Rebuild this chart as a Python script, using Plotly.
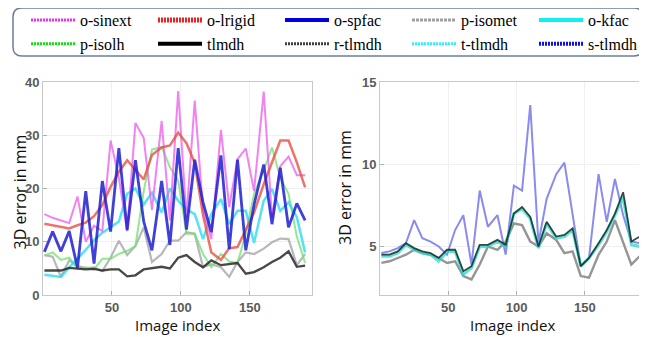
import plotly.graph_objects as go

# the page body adds an 8px margin; the figure is sized and laid out so that
# its content lands where the reference has it in the 647x337 window
OFF = 8
FW, FH = 647 - OFF, 337 - OFF

# ---------------- data ----------------
x_index = [1, 7, 13, 19, 25, 31, 37, 43, 49, 55, 61, 67, 73, 79, 86, 92,
           98, 104, 110, 116, 122, 129, 135, 141, 147, 153, 160, 166, 172, 178, 184, 190]

# left panel
o_sinext = [15.2, 14.5, 14.0, 13.5, 18.5, 10.0, 13.0, 12.0, 29.0, 22.0, 12.0, 32.3, 29.5, 16.0, 32.7, 14.0,
            38.3, 14.6, 36.5, 16.0, 10.5, 31.0, 16.5, 25.5, 27.5, 19.5, 38.2, 14.6, 24.2, 26.0, 22.5, 22.5]
o_lrigid = [13.4, 13.1, 12.8, 12.5, 13.1, 13.6, 14.8, 16.9, 20.3, 23.1, 25.3, 23.6, 21.7, 26.3, 27.7, 28.1,
            30.5, 28.5, 24.8, 15.0, 8.0, 6.6, 8.8, 9.0, 12.1, 15.5, 20.8, 24.8, 29.0, 29.0, 24.9, 20.2]
o_spfac = [8.1, 11.9, 8.2, 12.0, 5.1, 19.5, 5.9, 21.4, 11.9, 27.6, 12.2, 25.3, 13.8, 8.4, 21.4, 9.4,
           27.6, 12.3, 25.4, 17.4, 11.8, 26.2, 8.6, 25.4, 8.4, 17.0, 24.5, 13.3, 23.9, 12.7, 17.2, 14.0]
p_isomet = [7.5, 7.2, 3.4, 6.5, 5.5, 5.0, 5.2, 4.5, 7.0, 10.2, 7.5, 9.2, 12.7, 6.2, 7.7, 10.2,
            10.2, 11.8, 11.5, 5.2, 5.8, 5.2, 3.4, 6.2, 8.0, 7.7, 8.7, 9.9, 10.6, 10.5, 5.6, 7.7]
o_kfac = [3.8, 3.6, 3.4, 5.2, 6.8, 8.5, 10.3, 11.7, 12.7, 13.8, 19.0, 20.0, 17.0, 19.2, 15.5, 20.0,
          17.7, 16.1, 15.2, 10.5, 15.2, 18.0, 13.3, 15.8, 15.8, 9.8, 17.7, 19.9, 15.8, 17.4, 14.6, 8.0]
p_isolh = [7.4, 8.0, 6.6, 7.0, 5.0, 5.2, 4.8, 6.8, 6.8, 7.7, 8.3, 9.2, 19.5, 27.3, 27.8, 24.0,
           21.5, 11.5, 11.5, 7.7, 5.2, 7.7, 6.3, 6.0, 11.5, 19.0, 23.4, 27.7, 22.0, 19.0, 11.0, 6.0]
tlmdh_left = [4.6, 4.6, 4.6, 5.1, 5.0, 4.8, 4.9, 4.6, 4.8, 4.8, 3.5, 3.7, 4.8, 5.0, 5.3, 5.0,
              7.0, 7.5, 6.2, 5.2, 6.5, 5.6, 5.8, 6.0, 4.0, 4.3, 5.2, 6.2, 7.0, 8.2, 5.3, 5.5]

# right panel
s_tlmdh = [4.6, 4.7, 4.9, 5.2, 6.6, 5.5, 5.3, 5.0, 4.5, 6.0, 6.9, 3.9, 8.4, 6.2, 6.9, 4.5,
           8.7, 8.4, 13.6, 5.2, 7.9, 9.4, 10.1, 7.0, 3.8, 4.3, 9.4, 6.5, 9.1, 6.9, 5.3, 5.2]
r_tlmdh = [4.0, 4.1, 4.3, 4.5, 4.8, 4.6, 4.5, 4.3, 4.0, 4.1, 3.2, 3.0, 3.9, 5.0, 4.8, 5.3,
           6.4, 6.3, 5.3, 5.0, 5.8, 5.4, 4.6, 4.7, 3.2, 3.1, 4.5, 5.3, 6.6, 5.2, 3.9, 4.4]
t_tlmdh = [4.4, 4.4, 4.6, 5.1, 4.8, 4.6, 4.5, 4.1, 4.7, 4.7, 3.3, 3.7, 5.0, 5.0, 5.3, 5.0,
           7.0, 7.3, 6.7, 4.9, 6.4, 5.5, 5.6, 6.0, 3.8, 4.3, 5.1, 5.9, 6.9, 8.0, 5.1, 5.0]
tlmdh_right = [4.5, 4.5, 4.7, 5.2, 4.9, 4.7, 4.6, 4.3, 4.8, 4.8, 3.5, 3.8, 5.1, 5.1, 5.4, 5.1,
               7.0, 7.4, 6.8, 5.0, 6.5, 5.6, 5.7, 6.1, 3.8, 4.3, 5.2, 6.0, 7.0, 8.3, 5.3, 5.6]

left_ticks = [0, 10, 20, 30, 40]
right_ticks = [5, 10, 15]
x_ticks = [50, 100, 150]

legend_names = ["o-sinext", "o-lrigid", "o-spfac", "p-isomet", "o-kfac",
                "p-isolh", "tlmdh", "r-tlmdh", "t-tlmdh", "s-tlmdh"]

x_title = "Image index"
y_title = "3D error in mm"

# ---------------- styles ----------------
plot_style = {
    "o-sinext": dict(color="rgba(236,90,236,0.75)", width=2),
    "o-lrigid": dict(color="rgba(232,80,66,0.8)", width=2.5),
    "o-spfac": dict(color="rgba(30,30,210,0.85)", width=2.8),
    "p-isomet": dict(color="rgba(160,160,160,0.75)", width=2.2),
    "o-kfac": dict(color="rgba(40,220,240,0.8)", width=2.5),
    "p-isolh": dict(color="rgba(110,225,110,0.75)", width=2),
    "tlmdh": dict(color="rgba(40,40,40,0.85)", width=2.3),
}
right_style = {
    "s-tlmdh": dict(color="rgba(110,110,235,0.8)", width=2),
    "r-tlmdh": dict(color="rgba(130,130,130,0.85)", width=2.4),
    "t-tlmdh": dict(color="rgba(40,215,205,0.75)", width=3),
    "tlmdh": dict(color="rgba(20,45,35,0.85)", width=1.8),
}
legend_style = {
    "o-sinext": dict(color="#f030f0", width=3, dash="2px,1px"),
    "o-lrigid": dict(color="#f02020", width=5, dash="2px,1px"),
    "o-spfac": dict(color="#0000e0", width=4, dash="solid"),
    "p-isomet": dict(color="#a0a0a0", width=3, dash="3px,1px"),
    "o-kfac": dict(color="#10f0f0", width=4, dash="solid"),
    "p-isolh": dict(color="#10e010", width=3, dash="2px,1px"),
    "tlmdh": dict(color="#000000", width=4, dash="solid"),
    "r-tlmdh": dict(color="#404040", width=3, dash="2px,1px"),
    "t-tlmdh": dict(color="#30f0ff", width=3, dash="2px,1px"),
    "s-tlmdh": dict(color="#1010e0", width=4, dash="2px,1px"),
}

fig = go.Figure()

left_series = [("p-isomet", p_isomet), ("p-isolh", p_isolh), ("o-kfac", o_kfac),
               ("o-sinext", o_sinext), ("o-lrigid", o_lrigid), ("tlmdh", tlmdh_left),
               ("o-spfac", o_spfac)]
for name, vals in left_series:
    fig.add_trace(go.Scatter(x=x_index, y=vals, mode="lines", name=name,
                             line=plot_style[name], showlegend=False,
                             xaxis="x", yaxis="y", hoverinfo="skip"))

right_series = [("s-tlmdh", s_tlmdh), ("r-tlmdh", r_tlmdh), ("t-tlmdh", t_tlmdh),
                ("tlmdh", tlmdh_right)]
for name, vals in right_series:
    fig.add_trace(go.Scatter(x=x_index, y=vals, mode="lines", name=name,
                             line=right_style[name], showlegend=False,
                             xaxis="x2", yaxis="y2", hoverinfo="skip"))

for name in legend_names:
    fig.add_trace(go.Scatter(x=[None], y=[None], mode="lines", name=name,
                             line=legend_style[name], showlegend=True,
                             xaxis="x", yaxis="y"))

tick_font = dict(family="Liberation Sans", size=13, color="#5a5a5a", weight="bold")
title_font_x = dict(family="Open Sans", size=15, color="#111111")
title_font_y = dict(family="Open Sans", size=16, color="#111111")

axis_common = dict(showline=True, mirror=True, linecolor="#c8c8c8", linewidth=1,
                   ticks="inside", ticklen=4, tickcolor="#b0b0b0",
                   showgrid=True, gridcolor="#f0f0f0", zeroline=False,
                   tickfont=tick_font)


def px_x(p):
    """window pixel column -> paper fraction"""
    return (p - OFF) / FW


def px_y(p):
    """window pixel row -> paper fraction"""
    return 1 - (p - OFF) / FH


fig.update_layout(
    width=FW, height=FH,
    margin=dict(l=0, r=0, t=0, b=0, autoexpand=False),
    paper_bgcolor="white", plot_bgcolor="white",
    xaxis=dict(domain=[px_x(43), px_x(312)], range=[0, 195], tickvals=x_ticks, **axis_common),
    yaxis=dict(domain=[px_y(295), px_y(82)], range=[0, 40], tickvals=left_ticks, **axis_common),
    xaxis2=dict(domain=[px_x(380), px_x(645)], range=[0, 194], tickvals=x_ticks, anchor="y2",
                **axis_common),
    yaxis2=dict(domain=[px_y(295), px_y(82)], range=[2.05, 15], tickvals=right_ticks, anchor="x2",
                **axis_common),
    legend=dict(orientation="h", x=px_x(26), xanchor="left", y=px_y(3), yanchor="top",
                entrywidth=68, entrywidthmode="pixels", itemwidth=44,
                font=dict(family="Liberation Serif", size=16, color="#000000"),
                bgcolor="rgba(0,0,0,0)", borderwidth=0, itemclick=False, itemdoubleclick=False),
)

# axis titles as annotations placed relative to the panels
for cx in [(43 + 312) / 2, (380 + 645) / 2]:
    fig.add_annotation(text=x_title, x=px_x(cx), y=px_y(325), xref="paper", yref="paper",
                       xanchor="center", yanchor="middle", showarrow=False, font=title_font_x)
for cx, cy in [(19.5, 192), (345, 187)]:
    fig.add_annotation(text=y_title, x=px_x(cx), y=px_y(cy), xref="paper", yref="paper",
                       xanchor="center", yanchor="middle", showarrow=False, textangle=-90,
                       font=title_font_y)

# rounded legend frame
x0, x1 = px_x(13), px_x(643)
y0, y1 = px_y(56), px_y(8)
rx, ry = 9 / FW, 9 / FH
path = (f"M {x0+rx},{y1} L {x1-rx},{y1} Q {x1},{y1} {x1},{y1-ry} "
        f"L {x1},{y0+ry} Q {x1},{y0} {x1-rx},{y0} L {x0+rx},{y0} "
        f"Q {x0},{y0} {x0},{y0+ry} L {x0},{y1-ry} Q {x0},{y1} {x0+rx},{y1} Z")
fig.add_shape(type="path", path=path, xref="paper", yref="paper",
              line=dict(color="#6a7f9c", width=1.5), fillcolor="rgba(0,0,0,0)", layer="below")

fig.write_html("out.html")
